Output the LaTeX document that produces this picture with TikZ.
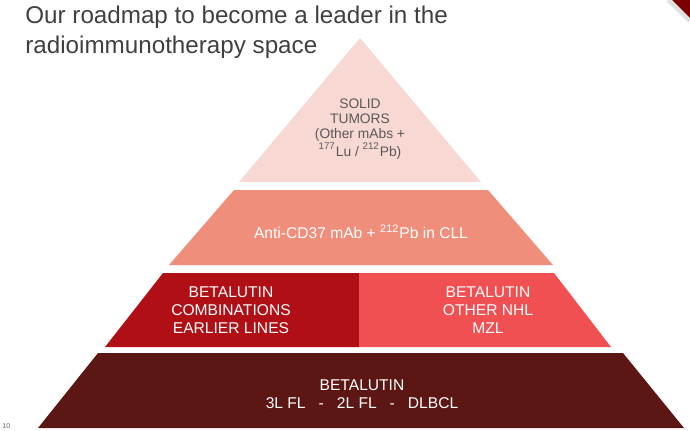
\documentclass[tikz,border=0pt]{standalone}
\usepackage{fontspec}
\setmainfont{Liberation Sans}
\definecolor{titlegrey}{HTML}{404040}
\definecolor{toptier}{HTML}{F8D8D3}
\definecolor{toptext}{HTML}{595959}
\definecolor{salmon}{HTML}{F08E7C}
\definecolor{redleft}{HTML}{B01015}
\definecolor{redright}{HTML}{F05052}
\definecolor{maroon}{HTML}{5C1715}
\definecolor{cornerred}{HTML}{7A0000}
\begin{document}
\begin{tikzpicture}[x=0.5pt,y=-0.5pt,
  tiertext/.style={align=center,text=white,font=\fontsize{7.8pt}{9pt}\selectfont,anchor=base},
  toptxt/.style={align=center,text=toptext,font=\fontsize{6.9pt}{7.5pt}\selectfont,anchor=base},
  titletxt/.style={align=left,text=titlegrey,inner sep=0pt,font=\fontsize{12.1pt}{15pt}\selectfont,anchor=base west}]
\useasboundingbox (0,0) rectangle (690,430);
\fill[white] (0,0) rectangle (690,430);
% corner decoration
\draw[black!12,line width=2pt] (668,0) -- (690,21);
\fill[cornerred] (672,0) -- (690,0) -- (690,18) -- cycle;
% title (base = last line)
\node[titletxt] (title) at (25,53) {Our roadmap to become a leader in the\\radioimmunotherapy space};
% tier 1 (top triangle)
\fill[toptier] (360,38) -- (481,182) -- (239,182) -- cycle;
\node[toptxt] (t1) at (360,156) {SOLID\\TUMORS\\(Other mAbs +\\\textsuperscript{177}Lu / \textsuperscript{212}Pb)};
% tier 2
\fill[salmon] (234,190) -- (488,190) -- (553,265) -- (169,265) -- cycle;
\node[tiertext] (t2) at (361,238) {Anti-CD37 mAb + \textsuperscript{212}Pb in CLL};
% tier 3
\fill[redleft] (163,273) -- (359,273) -- (359,347) -- (105,347) -- cycle;
\fill[redright] (359,273) -- (554,273) -- (611,347) -- (359,347) -- cycle;
\node[tiertext] (t3l) at (231,333) {BETALUTIN\\COMBINATIONS\\EARLIER LINES};
\node[tiertext] (t3r) at (488,333) {BETALUTIN\\OTHER NHL\\MZL};
% tier 4
\fill[maroon] (98,353) -- (623,353) -- (684,428) -- (38,428) -- cycle;
\node[tiertext] (t4) at (362,408) {BETALUTIN\\3L FL~~~-~~~2L FL~~~-~~~DLBCL};
% page number
\node[anchor=base west,text=black!60,font=\fontsize{3.5pt}{4pt}\selectfont,inner sep=0pt] (pg) at (2,428) {10};
\end{tikzpicture}
\end{document}
